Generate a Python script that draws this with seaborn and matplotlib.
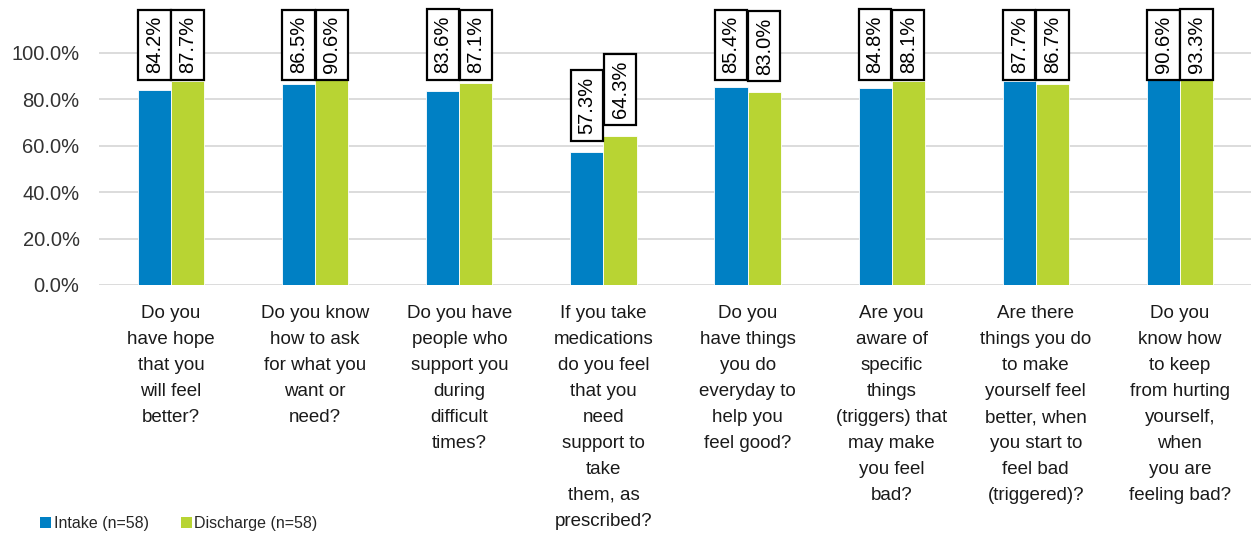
import pandas as pd
import seaborn as sns
import matplotlib.pyplot as plt
from matplotlib.patches import Patch

questions = [
    "Do you\nhave hope\nthat you\nwill feel\nbetter?",
    "Do you know\nhow to ask\nfor what you\nwant or\nneed?",
    "Do you have\npeople who\nsupport you\nduring\ndifficult\ntimes?",
    "If you take\nmedications\ndo you feel\nthat you\nneed\nsupport to\ntake\nthem, as\nprescribed?",
    "Do you\nhave things\nyou do\neveryday to\nhelp you\nfeel good?",
    "Are you\naware of\nspecific\nthings\n(triggers) that\nmay make\nyou feel\nbad?",
    "Are there\nthings you do\nto make\nyourself feel\nbetter, when\nyou start to\nfeel bad\n(triggered)?",
    "Do you\nknow how\nto keep\nfrom hurting\nyourself,\nwhen\nyou are\nfeeling bad?",
]
intake = [84.2, 86.5, 83.6, 57.3, 85.4, 84.8, 87.7, 90.6]
discharge = [87.7, 90.6, 87.1, 64.3, 83.0, 88.1, 86.7, 93.3]
series = ["Intake (n=58)", "Discharge (n=58)"]
colors = ["#0080C4", "#B8D433"]

df = pd.DataFrame({
    "question": questions * 2,
    "series": [series[0]] * len(intake) + [series[1]] * len(discharge),
    "value": [v / 100 for v in intake + discharge],
})

sns.set_style("white")
plt.rcParams["font.family"] = ["Liberation Sans", "DejaVu Sans"]

fig = plt.figure(figsize=(12.51, 5.35), dpi=100)
ax = fig.add_axes([99 / 1251, 250 / 535, 1153 / 1251, 285 / 535])

sns.barplot(data=df, x="question", y="value", hue="series", palette=colors,
            saturation=1, width=0.46, gap=0, edgecolor="white", linewidth=0.6,
            legend=False, ax=ax, zorder=2)

ax.set_ylim(0, 1.228)
ax.set_yticks([0, 0.2, 0.4, 0.6, 0.8, 1.0])
ax.set_yticklabels([f"{t * 100:.1f}%" for t in [0, 0.2, 0.4, 0.6, 0.8, 1.0]],
                   fontsize=14.5, color="#333333")
ax.set_xticks(range(len(questions)))
ax.set_xticklabels(questions, fontsize=13.5, color="#1a1a1a", linespacing=1.69)
ax.tick_params(axis="y", length=0, pad=14)
ax.tick_params(axis="x", length=0, pad=14.5)
ax.set_xlabel("")
ax.set_ylabel("")
ax.yaxis.grid(True, color="#D9D9D9", linewidth=1.3, zorder=0)
ax.set_axisbelow(True)
for s in ax.spines.values():
    s.set_visible(False)

# value labels in boxes, kept inside the plot area like the original
for cont, vals in zip(ax.containers, [intake, discharge]):
    for bar, v in zip(cont, vals):
        x = bar.get_x() + bar.get_width() / 2
        y = min(v / 100 + 0.20, 1.035)
        ax.text(x, y, f"{v:.1f}%", rotation=90, ha="center", va="center",
                fontsize=14.5, color="black", zorder=5,
                bbox=dict(boxstyle="square,pad=0.33", fc="white", ec="black", lw=1.6))

handles = [Patch(facecolor=c, edgecolor="none") for c in colors]
fig.legend(handles, series, loc="center left", bbox_to_anchor=(0.032, 0.022),
           ncol=2, frameon=False, fontsize=11.5, handlelength=0.7, handleheight=0.7,
           handletextpad=0.15, columnspacing=2.0, borderaxespad=0, borderpad=0)

fig.savefig("out.png", dpi=100)
